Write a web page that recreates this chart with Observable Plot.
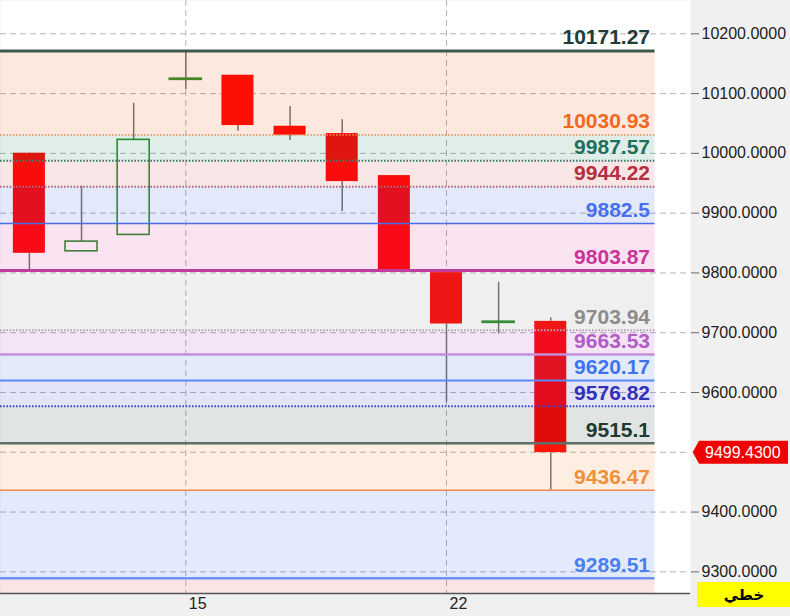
<!DOCTYPE html>
<html>
<head>
<meta charset="utf-8">
<script src="https://cdn.jsdelivr.net/npm/d3@7"></script>
<script src="https://cdn.jsdelivr.net/npm/@observablehq/plot@0.6"></script>
<style>
  html, body { margin: 0; padding: 0; background: #f0f0f0; }
  #chart { width: 790px; height: 616px; overflow: hidden; background: #f0f0f0; }
</style>
</head>
<body>
<div id="chart"></div>
<script>
// ---------- DATA ----------
const days  = ["10", "11", "12", "15", "16", "17", "18", "19", "22", "23", "24"];
const open  = [10000.2, 9836.2, 9863.6, 10123.0, 10130.7, 10045.4, 10033.1, 9962.8, 9800.5, 9716.5, 9719.0];
const close = [9832.8, 9852.4, 10022.6, 10125.0, 10046.5, 10030.3, 9952.8, 9803.9, 9714.6, 9718.5, 9499.43];
const high  = [10001.0, 9945.0, 10083.8, 10171.27, 10130.7, 10078.3, 10056.1, 9962.8, 9800.5, 9784.3, 9724.7];
const low   = [9801.0, 9836.2, 9863.6, 10106.3, 10037.0, 10021.4, 9902.6, 9803.9, 9583.4, 9697.9, 9436.47];

const levels      = [10171.27, 10030.93, 9987.57, 9944.22, 9882.5, 9803.87, 9703.94, 9663.53, 9620.17, 9576.82, 9515.1, 9436.47, 9289.51];
const levelLabels = ["10171.27", "10030.93", "9987.57", "9944.22", "9882.5", "9803.87", "9703.94", "9663.53", "9620.17", "9576.82", "9515.1", "9436.47", "9289.51"];

const yTickValues  = [10200, 10100, 10000, 9900, 9800, 9700, 9600, 9400, 9300];
const yGridValues  = [10200, 10100, 10000, 9900, 9800, 9700, 9600, 9500, 9400, 9300];
const xTickIndex   = [3, 8];
const lastPrice    = 9499.43;
const chartTypeLabel = "خطي";

// ---------- STYLES ----------
const lineColor  = ["#3c5a4c", "#ec8a55", "#3d7d6c", "#b36676", "#4a6ee6", "#c23c9e", "#b3a8b6", "#c58fd6", "#5a8af2", "#4242d0", "#5f6f67", "#f08a50", "#6a92f2"];
const lineWidth  = [3, 1.5, 2, 2, 1.5, 3, 2, 2.5, 2, 2, 2.5, 1.5, 2.5];
const lineDotted = [false, true, true, true, false, false, true, false, false, true, false, false, false];
const labelColor = ["#1f3d3a", "#f2691e", "#1f6f5c", "#b52f3f", "#4670f0", "#cc3399", "#8c8c8c", "#b35cc6", "#3f74f0", "#3232b8", "#1f3a30", "#f0903a", "#4a80f0"];
// band colour directly above each level (as seen over white); plus one band below the last level
const bandAbove  = [null, "#fde8df", "#dfeee9", "#f8e5e5", "#e3e9fb", "#f9e3f0", "#efefef", "#f3e5f6", "#e3ebfb", "#e4e4f8", "#e0e4e2", "#fdeee2", "#e3eafc"];
const bandBelowLast = "#fbe4e4";
const bandAlpha = 0.15;
const panelGray = "#f0f0f0";

const xDomain = [-0.554, 12.68];
const yDomain = [9263.8, 10255.7];
const xBandEnd = 12.0;

// ---------- BUILD ----------
const candles = days.map((d, i) => ({i, day: d, open: open[i], close: close[i], high: high[i], low: low[i],
  up: close[i] >= open[i]}));

function baseColor(target) {
  const t = d3.rgb(target);
  const f = v => Math.max(0, Math.min(255, Math.round(255 - (255 - v) / bandAlpha)));
  return d3.rgb(f(t.r), f(t.g), f(t.b)).formatHex();
}

const bands = [];
for (let k = 1; k < levels.length; k++) {
  bands.push({lo: levels[k], hi: levels[k - 1], fill: baseColor(bandAbove[k])});
}
bands.push({lo: yDomain[0], hi: levels[levels.length - 1], fill: baseColor(bandBelowLast)});

const levelData = levels.map((v, k) => ({v, label: levelLabels[k], color: labelColor[k]}));

const levelRules = levels.map((v, k) => Plot.ruleY([v], {
  x1: xDomain[0], x2: xBandEnd,
  stroke: lineColor[k], strokeWidth: lineWidth[k],
  strokeDasharray: lineDotted[k] ? "1.6,1.6" : null
}));

const halfBody = 0.307;
const red = "#ff0000", green = "#2a8a2a", wick = "#6e6e6e";
const W = 790, H = 616, MR = 100, MB = 23;

const plot = Plot.plot({
  width: W, height: H,
  marginLeft: 0, marginRight: MR, marginTop: 0, marginBottom: MB,
  x: {domain: xDomain, axis: null},
  y: {domain: yDomain, axis: null},
  color: {type: "identity"},
  style: {fontFamily: "'Liberation Sans', Arial, sans-serif", color: "#222", overflow: "visible"},
  marks: [
    // grey panel behind everything (frame extended over the margins)
    Plot.frame({fill: panelGray, stroke: "none", insetRight: -MR, insetBottom: -MB}),
    // white plotting area
    Plot.frame({fill: "white", stroke: "none"}),
    Plot.gridY(yGridValues, {stroke: "#b4b4b4", strokeOpacity: 1, strokeDasharray: "6,4"}),
    Plot.gridX(xTickIndex, {stroke: "#b4b4b4", strokeOpacity: 1, strokeDasharray: "6,4"}),
    // wicks
    Plot.ruleX(candles, {x: "i", y1: "high", y2: d => Math.max(d.open, d.close), stroke: wick, strokeWidth: 1.5}),
    Plot.ruleX(candles, {x: "i", y1: d => Math.min(d.open, d.close), y2: "low", stroke: wick, strokeWidth: 1.5}),
    // bodies
    Plot.rect(candles.filter(d => !d.up), {x1: d => d.i - halfBody, x2: d => d.i + halfBody, y1: "open", y2: "close", fill: red}),
    Plot.rect(candles.filter(d => d.up), {x1: d => d.i - halfBody, x2: d => d.i + halfBody, y1: "open", y2: "close", fill: "none", stroke: green, strokeWidth: 1.6}),
    // translucent level bands
    Plot.rect(bands, {x1: xDomain[0], x2: xBandEnd, y1: "lo", y2: "hi", fill: "fill", fillOpacity: bandAlpha}),
    // level lines
    ...levelRules,
    // bottom axis line
    Plot.ruleY([yDomain[0]], {stroke: "#555", strokeWidth: 1.5}),
    // level labels
    Plot.text(levelData, {x: xBandEnd, y: "v", text: "label", fill: "color", textAnchor: "end", lineAnchor: "bottom",
      dx: -5, dy: -6.5, fontSize: 21, fontWeight: "bold"}),
    Plot.axisY(yTickValues, {anchor: "right", tickSize: 8, tickPadding: 3, tickFormat: d => d.toFixed(4),
      fontSize: 16, label: null, stroke: "#666", fill: "#222"}),
    Plot.axisX(xTickIndex, {anchor: "bottom", tickSize: 0, tickPadding: 4, tickFormat: i => days[i],
      fontSize: 16, textAnchor: "start", dx: 3, label: null, fill: "#222"})
  ]
});

const svg = d3.select(plot);

// price tag and chart-type box in the right panel
const yScale = plot.scale("y");
const yp = yScale.apply(lastPrice);
const tag = svg.append("g");
tag.append("polygon")
  .attr("points", [[692.7, yp], [699, yp - 11.5], [788, yp - 11.5], [788, yp + 11.5], [699, yp + 11.5]].map(p => p.join(",")).join(" "))
  .attr("fill", "#f00000");
tag.append("text")
  .attr("x", 705).attr("y", yp).attr("dy", "0.35em")
  .attr("text-anchor", "start")
  .attr("fill", "white").attr("font-size", 16)
  .attr("font-family", "'Liberation Sans', Arial, sans-serif")
  .text(lastPrice.toFixed(4));

const box = svg.append("g");
box.append("rect").attr("x", 697).attr("y", 582).attr("width", 93).attr("height", 25).attr("fill", "#ffff00");
box.append("text").attr("x", 744).attr("y", 594.5).attr("dy", "0.35em")
  .attr("text-anchor", "middle").attr("font-size", 15).attr("font-weight", "bold")
  .attr("font-family", "'DejaVu Sans', sans-serif").attr("fill", "black")
  .text(chartTypeLabel);

document.getElementById("chart").appendChild(plot);
</script>
</body>
</html>
